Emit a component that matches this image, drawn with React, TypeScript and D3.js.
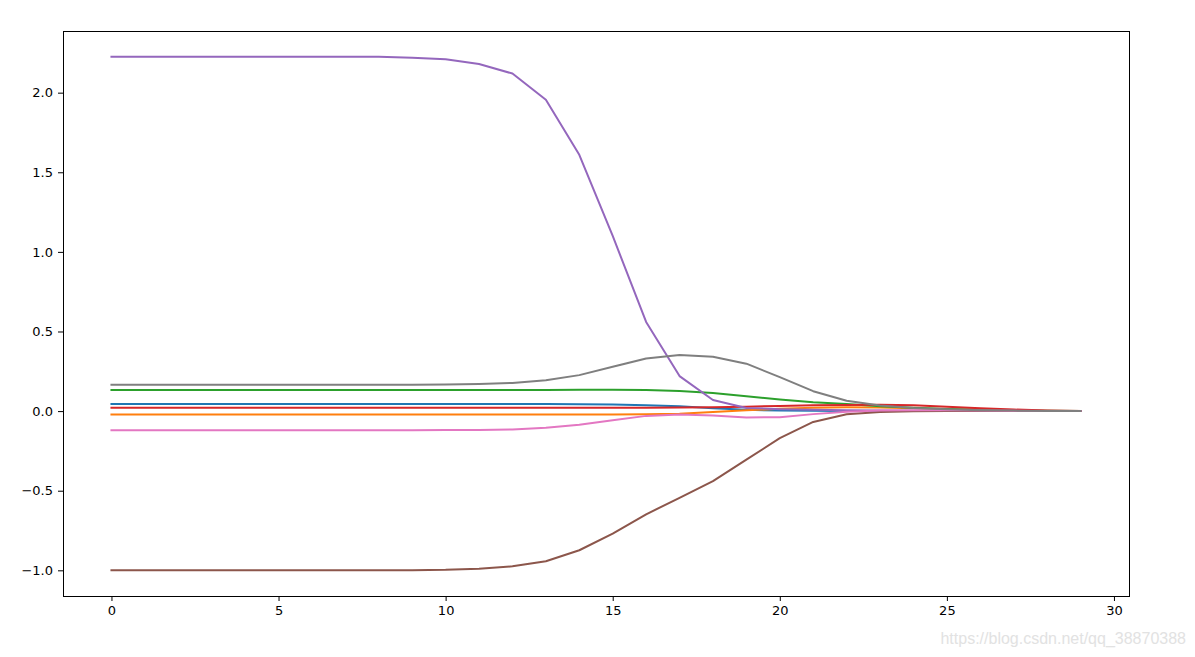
import React, { useEffect, useRef } from 'react';
import * as d3 from 'd3';

// x runs over 30 steps
const steps = d3.range(30);

const blue = [0.044, 0.044, 0.044, 0.044, 0.044, 0.044, 0.044, 0.044, 0.044, 0.044, 0.044, 0.044, 0.044, 0.044, 0.043, 0.041, 0.037, 0.03, 0.018, 0.008, 0.004, 0.002, 0.001, 0.001, 0.0, 0.0, 0.0, 0.0, 0.0, 0.0];
const orange = [-0.021, -0.021, -0.021, -0.021, -0.021, -0.021, -0.021, -0.021, -0.021, -0.021, -0.021, -0.021, -0.021, -0.021, -0.021, -0.021, -0.02, -0.016, -0.006, 0.005, 0.014, 0.021, 0.024, 0.023, 0.018, 0.012, 0.007, 0.003, 0.001, 0.0];
const green = [0.133, 0.133, 0.133, 0.133, 0.133, 0.133, 0.133, 0.133, 0.133, 0.133, 0.133, 0.133, 0.133, 0.133, 0.134, 0.134, 0.132, 0.126, 0.114, 0.094, 0.073, 0.056, 0.044, 0.031, 0.021, 0.013, 0.008, 0.004, 0.002, 0.0];
const red = [0.021, 0.021, 0.021, 0.021, 0.021, 0.021, 0.021, 0.021, 0.021, 0.021, 0.021, 0.021, 0.021, 0.021, 0.021, 0.021, 0.021, 0.022, 0.024, 0.028, 0.032, 0.036, 0.039, 0.04, 0.037, 0.028, 0.018, 0.01, 0.004, 0.0];
const purple = [2.226, 2.226, 2.226, 2.226, 2.226, 2.226, 2.226, 2.226, 2.225, 2.22, 2.21, 2.18, 2.12, 1.956, 1.61, 1.1, 0.56, 0.22, 0.07, 0.02, 0.012, 0.008, 0.005, 0.003, 0.002, 0.001, 0.001, 0.0, 0.0, 0.0];
const brown = [-1.0, -1.0, -1.0, -1.0, -1.0, -1.0, -1.0, -1.0, -1.0, -0.999, -0.997, -0.99, -0.975, -0.943, -0.874, -0.77, -0.648, -0.545, -0.44, -0.305, -0.17, -0.068, -0.02, -0.005, -0.001, 0.0, 0.0, 0.0, 0.0, 0.0];
const pink = [-0.12, -0.12, -0.12, -0.12, -0.12, -0.12, -0.12, -0.12, -0.12, -0.12, -0.119, -0.118, -0.115, -0.105, -0.085, -0.057, -0.03, -0.021, -0.027, -0.04, -0.038, -0.019, -0.004, 0.004, 0.006, 0.005, 0.003, 0.002, 0.001, 0.0];
const gray = [0.166, 0.166, 0.166, 0.166, 0.166, 0.166, 0.166, 0.166, 0.166, 0.166, 0.167, 0.17, 0.177, 0.194, 0.226, 0.278, 0.33, 0.352, 0.342, 0.298, 0.213, 0.125, 0.065, 0.035, 0.02, 0.012, 0.006, 0.003, 0.001, 0.0];

const series = [
  { name: 'blue', color: '#1f77b4', values: blue },
  { name: 'orange', color: '#ff7f0e', values: orange },
  { name: 'green', color: '#2ca02c', values: green },
  { name: 'red', color: '#d62728', values: red },
  { name: 'purple', color: '#9467bd', values: purple },
  { name: 'brown', color: '#8c564b', values: brown },
  { name: 'pink', color: '#e377c2', values: pink },
  { name: 'gray', color: '#7f7f7f', values: gray },
];

const xTicks = [0, 5, 10, 15, 20, 25, 30];
const yTicks = [-1.0, -0.5, 0.0, 0.5, 1.0, 1.5, 2.0];

const App: React.FC = () => {
  const svgRef = useRef<SVGSVGElement>(null);

  useEffect(() => {
    if (!svgRef.current) return;

    const width = 1195;
    const height = 657;
    const margin = { top: 31, right: 66, bottom: 61, left: 63 };
    const innerW = width - margin.left - margin.right;
    const innerH = height - margin.top - margin.bottom;

    d3.select(svgRef.current).selectAll("*").remove();

    const svg = d3.select(svgRef.current)
      .attr("width", width)
      .attr("height", height);

    svg.append("rect")
      .attr("width", width)
      .attr("height", height)
      .attr("fill", "#ffffff");

    const g = svg.append("g")
      .attr("transform", `translate(${margin.left},${margin.top})`);

    const allVals = series.flatMap(s => s.values);
    const yMin = d3.min(allVals) as number;
    const yMax = d3.max(allVals) as number;
    const yPad = (yMax - yMin) * 0.05;
    const xPad = 29 * 0.05;

    const x = d3.scaleLinear()
      .domain([0 - xPad, 29 + xPad])
      .range([0, innerW]);

    const y = d3.scaleLinear()
      .domain([yMin - yPad, yMax + yPad])
      .range([innerH, 0]);

    const fmt = (d: number) => d.toFixed(1).replace('-', '\u2212');

    const xAxis = g.append("g")
      .attr("transform", `translate(0,${innerH})`)
      .call(d3.axisBottom(x).tickValues(xTicks).tickSize(5).tickPadding(5).tickFormat(d => String(d)));

    const yAxis = g.append("g")
      .call(d3.axisLeft(y).tickValues(yTicks).tickSize(5).tickPadding(5).tickFormat(d => fmt(d as number)));

    [xAxis, yAxis].forEach(ax => {
      ax.selectAll(".domain").remove();
      ax.selectAll(".tick line").attr("stroke", "#000").attr("stroke-width", 1);
      ax.selectAll("text")
        .attr("fill", "#000")
        .style("font-family", "'DejaVu Sans', sans-serif")
        .style("font-size", "13px");
    });

    const line = d3.line<number>()
      .x((_, i) => x(steps[i]))
      .y(d => y(d));

    g.selectAll("path.series")
      .data(series)
      .enter()
      .append("path")
      .attr("class", "series")
      .attr("fill", "none")
      .attr("stroke", d => d.color)
      .attr("stroke-width", 2)
      .attr("stroke-linejoin", "round")
      .attr("stroke-linecap", "square")
      .attr("d", d => line(d.values));

    g.append("rect")
      .attr("width", innerW)
      .attr("height", innerH)
      .attr("fill", "none")
      .attr("stroke", "#000")
      .attr("stroke-width", 1)
      .attr("shape-rendering", "crispEdges");

    svg.append("text")
      .attr("x", 1186)
      .attr("y", 644)
      .attr("text-anchor", "end")
      .attr("fill", "#e2e2e2")
      .style("font-family", "'Liberation Sans', Arial, sans-serif")
      .style("font-size", "16px")
      .text("https://blog.csdn.net/qq_38870388");
  }, []);

  return (
    <div style={{ position: 'absolute', left: 0, top: 0 }}>
      <svg ref={svgRef}></svg>
    </div>
  );
};

export default App;
